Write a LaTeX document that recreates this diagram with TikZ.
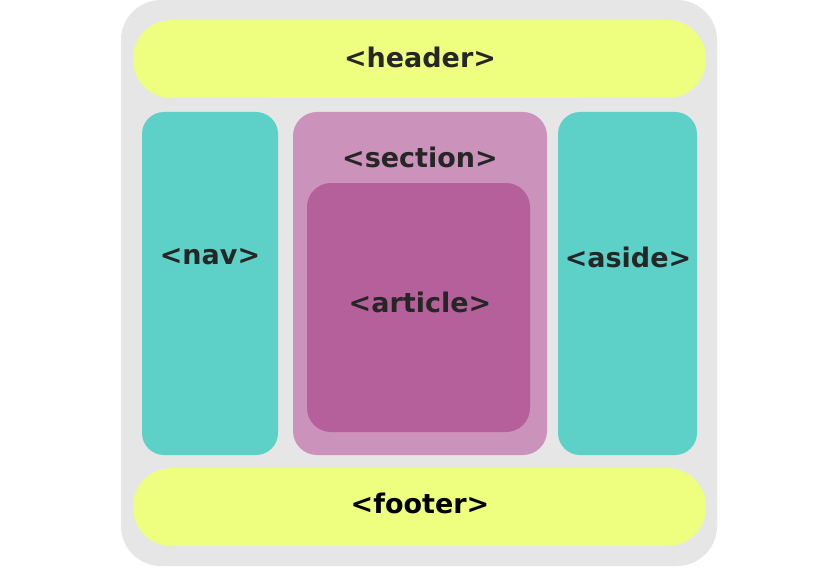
\documentclass[tikz,border=0pt]{standalone}
\usepackage{fontspec}
\setmainfont{DejaVu Sans}
\definecolor{bggray}{HTML}{E6E6E6}
\definecolor{yel}{HTML}{EEFF80}
\definecolor{teal2}{HTML}{5DD0C8}
\definecolor{sect}{HTML}{CB92BC}
\definecolor{artc}{HTML}{B5609A}
\begin{document}
\begin{tikzpicture}[x=1pt,y=-1pt,
  lbl/.style={font=\bfseries\fontsize{27}{31}\selectfont,text=black!85,inner sep=0pt}]
\useasboundingbox (0,0) rectangle (837,567);
\fill[white] (0,0) rectangle (837,567);
\fill[bggray,rounded corners=40] (121,0) rectangle (717,566);
% header
\fill[yel,rounded corners=38.5] (133,20) rectangle (706,98);
\node[lbl] (header) at (420,57) {<header>};
% nav
\fill[teal2,rounded corners=22] (142,112) rectangle (278,455);
\node[lbl] (nav) at (210,257) {<nav>};
% section
\fill[sect,rounded corners=24] (293,112) rectangle (547,455);
\node[lbl] (section) at (420,157) {<section>};
% article
\fill[artc,rounded corners=24] (307,183) rectangle (530,432);
\node[lbl] (article) at (420,302) {<article>};
% aside
\fill[teal2,rounded corners=22] (558,112) rectangle (697,455);
\node[lbl] (aside) at (628,257) {<aside>};
% footer
\fill[yel,rounded corners=38.5] (133,468) rectangle (706,546);
\node[lbl,text=black] (footer) at (420,503) {<footer>};
\end{tikzpicture}
\end{document}
